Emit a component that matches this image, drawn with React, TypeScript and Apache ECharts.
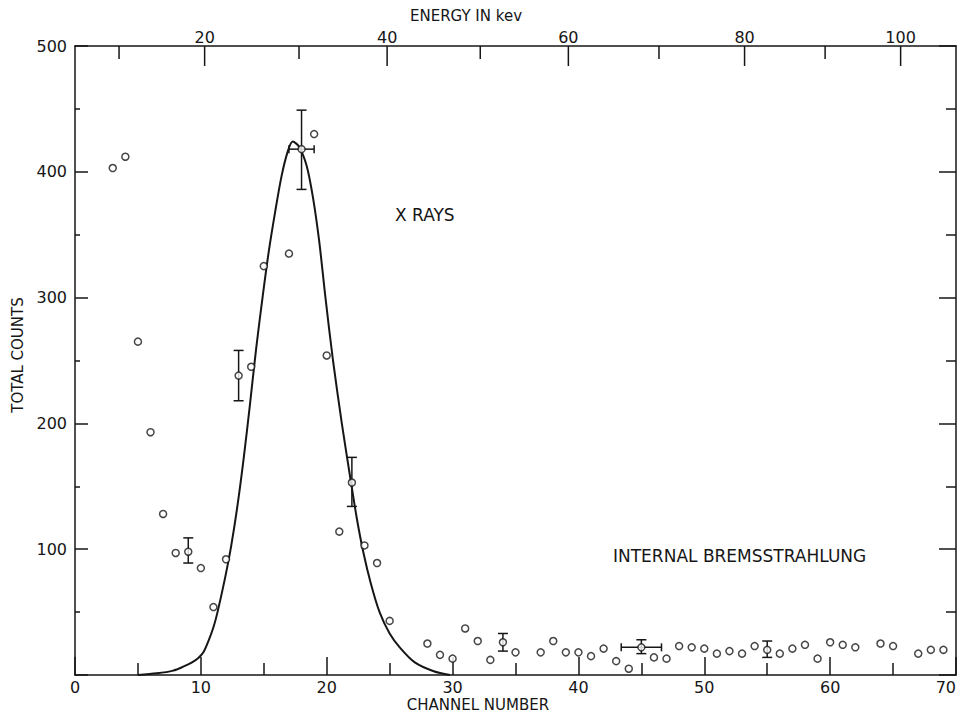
import React, { useEffect, useRef } from "react";
import * as echarts from "echarts";

// Measured data points (channel number, total counts)
const channels = [3, 4, 5, 6, 7, 8, 9, 10, 11, 12, 13, 14, 15, 17, 18, 19, 20, 21, 22, 23, 24, 25, 28, 29, 30, 31, 32, 33, 34, 35, 37, 38, 39, 40, 41, 42, 43, 44, 45, 46, 47, 48, 49, 50, 51, 52, 53, 54, 55, 56, 57, 58, 59, 60, 61, 62, 64, 65, 67, 68, 69];
const counts = [403, 412, 265, 193, 128, 97, 98, 85, 54, 92, 238, 245, 325, 335, 418, 430, 254, 114, 153, 103, 89, 43, 25, 16, 13, 37, 27, 12, 26, 18, 18, 27, 18, 18, 15, 21, 11, 5, 22, 14, 13, 23, 22, 21, 17, 19, 17, 23, 20, 17, 21, 24, 13, 26, 24, 22, 25, 23, 17, 20, 20];

// Error bars
const errChannels = [9, 13, 18, 22, 34, 45, 55];
const errCenter = [98, 238, 418, 153, 26, 22, 20];
const errLow = [89, 218, 386, 134, 19, 17, 14];
const errHigh = [109, 258, 449, 173, 33, 28, 27];
const errXHalf = [0, 0, 1, 0, 0, 1.6, 0];

// Fitted X-ray curve
const curveChannels = [5.0, 6.5, 7.8, 8.6, 9.3, 9.8, 10.2, 10.6, 11.0, 11.3, 11.9, 12.4, 12.9, 13.4, 13.9, 14.4, 14.9, 15.4, 15.9, 16.4, 16.9, 17.3, 17.8, 18.4, 18.9, 19.4, 19.9, 20.5, 21.2, 21.9, 22.4, 22.9, 23.5, 24.2, 25.0, 25.8, 27.0, 28.5, 29.8];
const curveCounts = [0, 1.3, 3.5, 6.6, 10, 13.5, 18, 27, 38, 49, 76, 102, 134, 172, 215, 260, 300, 337, 368, 396, 416, 424, 420, 405, 380, 345, 300, 250, 200, 155, 124, 98, 73, 50, 33, 22, 10, 3, 0];

// Energy scale (keV) on top, positions in channel units
const energyValues = [10, 20, 30, 40, 50, 60, 70, 80, 90, 100];
const energyChannelPos = [3.5, 10.3, 17.8, 24.8, 32.2, 39.2, 46.4, 53.2, 59.6, 65.6];
const energyLabeled = [20, 40, 60, 80, 100];

const INK = "#161616";
const FONT = "DejaVu Sans";

export default function App() {
  const ref = useRef<HTMLDivElement>(null);

  useEffect(() => {
    if (!ref.current) return;
    const chart = echarts.init(ref.current, undefined, { renderer: "svg" });

    const lineStyle = { color: INK, width: 1.5 };

    const option: any = {
      animation: false,
      backgroundColor: "#ffffff",
      grid: { left: 75, right: 2, top: 46, bottom: 40, containLabel: false, outerBoundsMode: "none" },
      xAxis: [
        {
          type: "value",
          position: "bottom",
          min: 0,
          max: 70,
          interval: 10,
          axisLine: { show: true, onZero: false, lineStyle },
          axisTick: { show: true, inside: true, length: 18, lineStyle },
          minorTick: { show: true, splitNumber: 2, length: 12, lineStyle },
          splitLine: { show: false },
          axisLabel: {
            color: INK,
            fontSize: 16,
            fontFamily: FONT,
            margin: 4,
            hideOverlap: false,
            alignMaxLabel: "right",
          },
        },
        {
          type: "value",
          position: "top",
          min: 0,
          max: 70,
          axisLine: { show: true, onZero: false, lineStyle },
          axisTick: { show: false },
          axisLabel: { show: false },
          splitLine: { show: false },
        },
      ],
      yAxis: [
        {
          type: "value",
          position: "left",
          min: 0,
          max: 500,
          interval: 100,
          axisLine: { show: true, onZero: false, lineStyle },
          axisTick: { show: true, inside: true, length: 13, lineStyle },
          minorTick: { show: true, splitNumber: 2, length: 5, lineStyle },
          splitLine: { show: false },
          axisLabel: {
            color: INK,
            fontSize: 16,
            fontFamily: FONT,
            margin: 8,
            formatter: (v: number) => (v === 0 ? "" : String(v)),
          },
        },
        {
          type: "value",
          position: "right",
          min: 0,
          max: 500,
          interval: 100,
          axisLine: { show: true, onZero: false, lineStyle },
          axisTick: { show: true, inside: true, length: 17, lineStyle },
          minorTick: { show: true, splitNumber: 2, length: 10, lineStyle },
          splitLine: { show: false },
          axisLabel: { show: false },
        },
      ],
      series: [
        {
          type: "custom",
          name: "energy",
          clip: false,
          silent: true,
          data: energyChannelPos.map((c, i) => [c, 500, energyValues[i]]),
          renderItem: (params: any, api: any) => {
            const p = api.coord([api.value(0), 500]);
            const e = api.value(2);
            const major = energyLabeled.indexOf(e) >= 0;
            const len = major ? 20 : 13;
            const children: any[] = [
              {
                type: "line",
                shape: { x1: p[0], y1: p[1], x2: p[0], y2: p[1] + len },
                style: { stroke: INK, lineWidth: 1.5 },
              },
            ];
            if (major) {
              children.push({
                type: "text",
                x: p[0],
                y: p[1] - 9,
                style: {
                  text: String(e),
                  align: "center",
                  verticalAlign: "middle",
                  fill: INK,
                  font: `16px "${FONT}"`,
                },
              });
            }
            return { type: "group", children };
          },
        },
        {
          type: "line",
          name: "fit",
          data: curveChannels.map((c, i) => [c, curveCounts[i]]),
          smooth: 0.3,
          showSymbol: false,
          symbol: "none",
          lineStyle: { color: INK, width: 2 },
          z: 2,
        },
        {
          type: "custom",
          name: "errors",
          clip: false,
          silent: true,
          z: 3,
          data: errChannels.map((c, i) => [c, errLow[i], errHigh[i], errCenter[i], errXHalf[i]]),
          renderItem: (params: any, api: any) => {
            const ch = api.value(0);
            const lo = api.coord([ch, api.value(1)]);
            const hi = api.coord([ch, api.value(2)]);
            const xh = api.value(4);
            const cap = 5;
            const st = { stroke: INK, lineWidth: 1.5 };
            const children: any[] = [
              { type: "line", shape: { x1: lo[0], y1: lo[1], x2: hi[0], y2: hi[1] }, style: st },
              { type: "line", shape: { x1: lo[0] - cap, y1: lo[1], x2: lo[0] + cap, y2: lo[1] }, style: st },
              { type: "line", shape: { x1: hi[0] - cap, y1: hi[1], x2: hi[0] + cap, y2: hi[1] }, style: st },
            ];
            if (xh > 0) {
              const l = api.coord([ch - xh, api.value(3)]);
              const r = api.coord([ch + xh, api.value(3)]);
              children.push(
                { type: "line", shape: { x1: l[0], y1: l[1], x2: r[0], y2: r[1] }, style: st },
                { type: "line", shape: { x1: l[0], y1: l[1] - 4, x2: l[0], y2: l[1] + 4 }, style: st },
                { type: "line", shape: { x1: r[0], y1: r[1] - 4, x2: r[0], y2: r[1] + 4 }, style: st }
              );
            }
            return { type: "group", children };
          },
        },
        {
          type: "scatter",
          name: "counts",
          data: channels.map((c, i) => [c, counts[i]]),
          symbol: "circle",
          symbolSize: 7,
          itemStyle: { color: "#ffffff", borderColor: INK, borderWidth: 1.5 },
          z: 4,
        },
      ],
      graphic: [
        {
          type: "text",
          x: 466,
          y: 16,
          style: { text: "ENERGY IN kev", align: "center", verticalAlign: "middle", fill: INK, font: `15px "${FONT}"` },
        },
        {
          type: "text",
          x: 18,
          y: 355,
          rotation: Math.PI / 2,
          style: { text: "TOTAL COUNTS", align: "center", verticalAlign: "middle", fill: INK, font: `15px "${FONT}"` },
        },
        {
          type: "text",
          x: 478,
          y: 705,
          style: { text: "CHANNEL NUMBER", align: "center", verticalAlign: "middle", fill: INK, font: `15px "${FONT}"` },
        },
        {
          type: "text",
          x: 395,
          y: 215,
          style: { text: "X RAYS", align: "left", verticalAlign: "middle", fill: INK, font: `17px "${FONT}"` },
        },
        {
          type: "text",
          x: 613,
          y: 556,
          style: { text: "INTERNAL BREMSSTRAHLUNG", align: "left", verticalAlign: "middle", fill: INK, font: `17px "${FONT}"` },
        },
      ],
    };

    chart.setOption(option);
    return () => chart.dispose();
  }, []);

  return (
    <div
      ref={ref}
      style={{ position: "fixed", left: 0, top: 0, width: 958, height: 715, background: "#fff" }}
    />
  );
}
